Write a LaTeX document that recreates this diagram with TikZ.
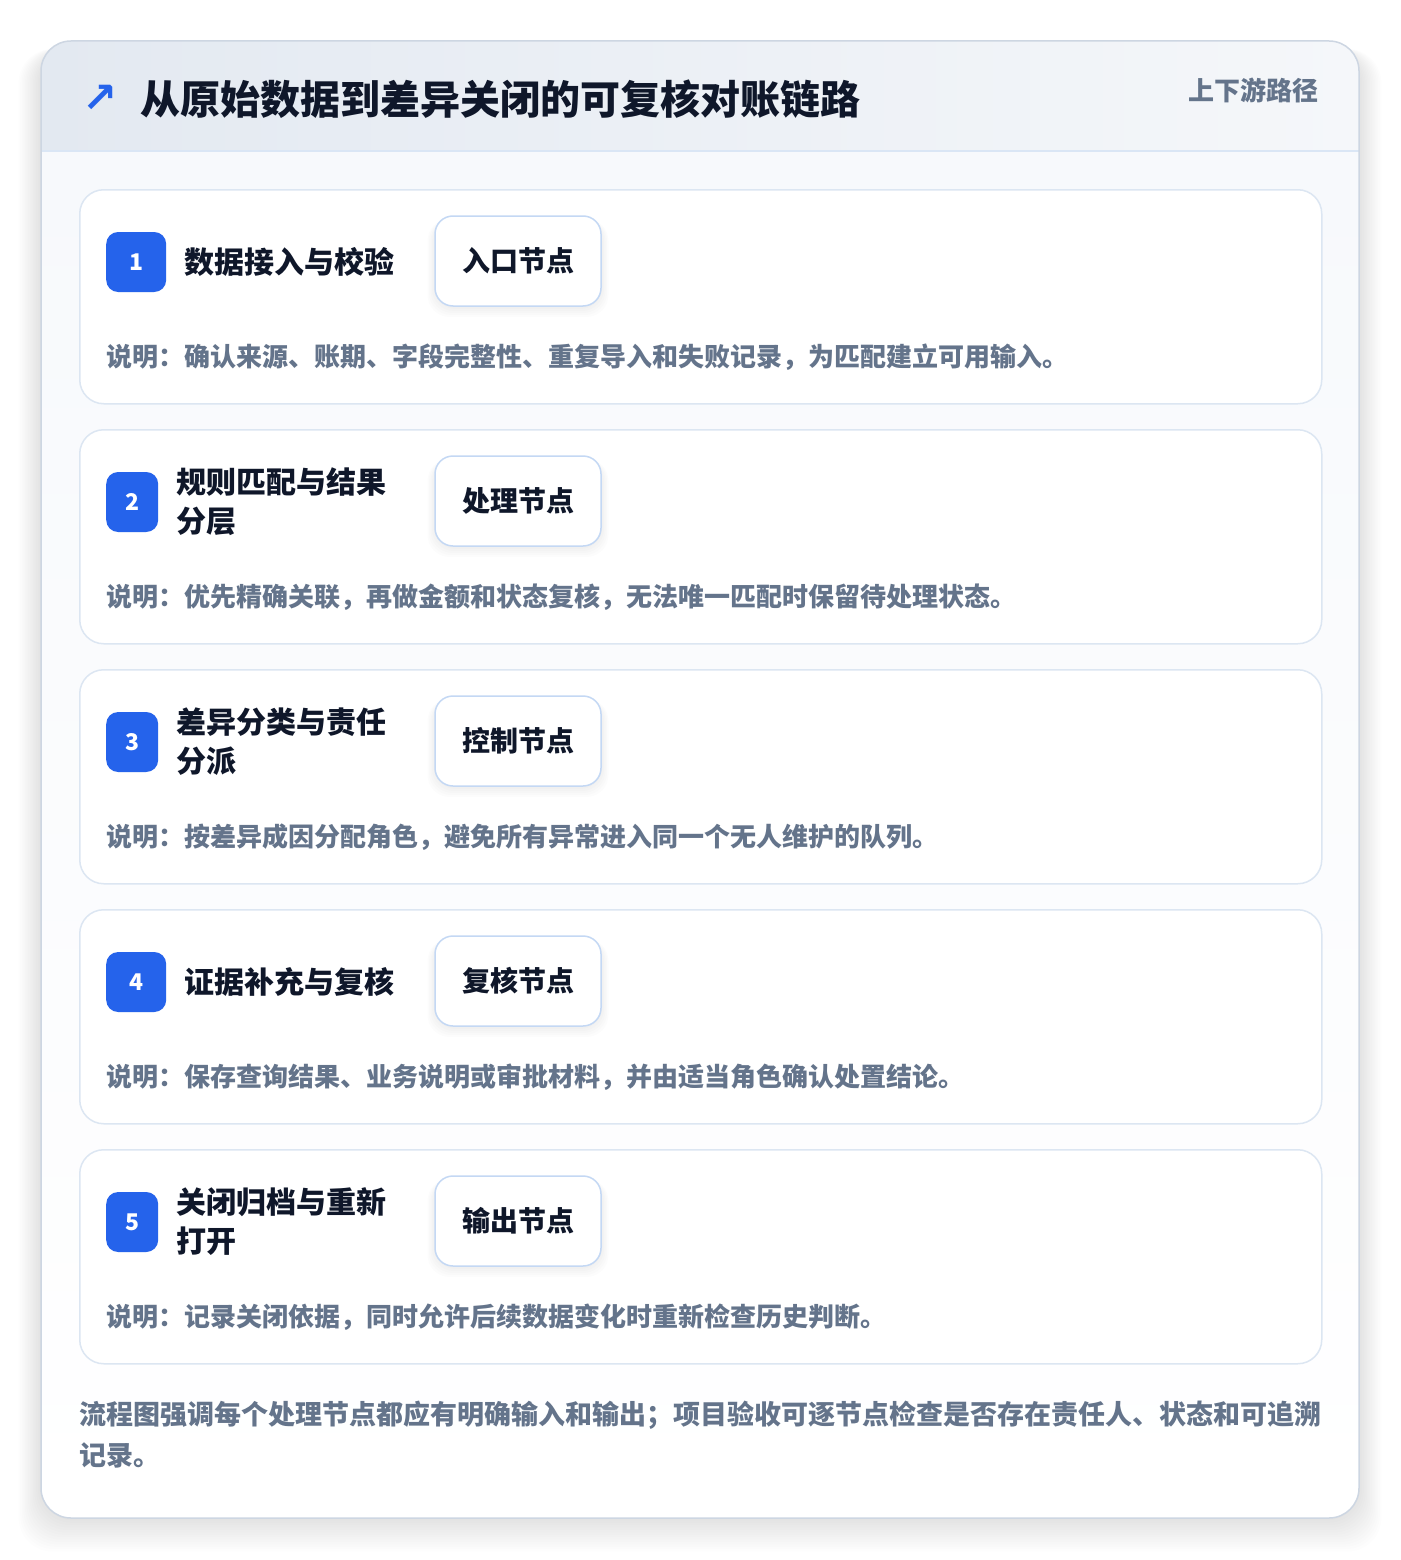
\documentclass[tikz,border=0pt]{standalone}
\usepackage{fontspec}
\setmainfont{Noto Sans CJK SC}
\newfontfamily\symfont{DejaVu Sans}
\usetikzlibrary{positioning}

\definecolor{ink}{HTML}{0F172A}
\definecolor{muted}{HTML}{64748B}
\definecolor{accent}{HTML}{2563EB}
\definecolor{cardline}{HTML}{DCE6F2}
\definecolor{tagline}{HTML}{C4D8F4}
\definecolor{frameline}{HTML}{CDD6E2}
\definecolor{headline}{HTML}{DAE6F5}
\definecolor{headL}{HTML}{E3E9F1}
\definecolor{headR}{HTML}{F5F7FA}
\definecolor{bodytop}{HTML}{F7F9FC}

\tikzset{
  stepcard/.style={draw=cardline, line width=1.5pt, fill=white, rounded corners=24pt,
    minimum width=1242pt, minimum height=214pt, anchor=north west, inner sep=0pt},
  badge/.style={fill=accent, rounded corners=12pt, minimum height=60pt, inner sep=0pt,
    text=white, font=\bfseries\fontsize{23}{23}\selectfont},
  steptitle/.style={anchor=west, align=left, inner sep=0pt, text=ink,
    font=\bfseries\fontsize{30}{39}\selectfont},
  tagbox/.style={draw=tagline, line width=1.5pt, fill=white, rounded corners=18pt,
    minimum width=166pt, minimum height=90pt, text=ink,
    font=\bfseries\fontsize{28}{28}\selectfont},
  stepnote/.style={anchor=west, inner sep=0pt, text=muted,
    font=\bfseries\fontsize{26}{26}\selectfont},
}

\begin{document}
\begin{tikzpicture}[x=1pt, y=-1pt]
  \useasboundingbox[fill=white] (0,0) rectangle (1400,1560);

  % Soft shadow of the frame
  \foreach \s in {1,...,14}
    \fill[black, opacity=0.008, rounded corners=34pt]
      (41-1.6*\s,41+8) rectangle (1359+1.6*\s,1518+2.4*\s);

  % Frame with header band
  \begin{scope}
    \clip[rounded corners=30pt] (41,41) rectangle (1359,1518);
    \shade[left color=headL, right color=headR] (41,41) rectangle (1359,151);
    \shade[top color=bodytop, bottom color=white] (41,151) rectangle (1359,1518);
  \end{scope}
  \draw[headline, line width=1.5pt] (41,151) -- (1359,151);
  \draw[frameline, line width=1.5pt, rounded corners=30pt] (41,41) rectangle (1359,1518);

  % Header texts
  \node[anchor=west, inner sep=0pt, text=ink, font=\bfseries\fontsize{40}{40}\selectfont]
    (heading) at (140,99) {从原始数据到差异关闭的可复核对账链路};
  \node[left=22pt of heading, inner sep=0pt, text=accent, font=\symfont\bfseries\fontsize{42}{42}\selectfont]
    (arrowicon) {↗};
  \node[anchor=east, inner sep=0pt, text=muted, font=\bfseries\fontsize{26}{26}\selectfont]
    (pathlabel) at (1319,90) {上下游路径};

  % Steps
  \foreach \n/\bw/\ttl/\tag/\note [count=\i from 0] in {
      1/60/{数据接入与校验}/{入口节点}/{说明：确认来源、账期、字段完整性、重复导入和失败记录，为匹配建立可用输入。},
      2/52/{规则匹配与结果\\分层}/{处理节点}/{说明：优先精确关联，再做金额和状态复核，无法唯一匹配时保留待处理状态。},
      3/52/{差异分类与责任\\分派}/{控制节点}/{说明：按差异成因分配角色，避免所有异常进入同一个无人维护的队列。},
      4/60/{证据补充与复核}/{复核节点}/{说明：保存查询结果、业务说明或审批材料，并由适当角色确认处置结论。},
      5/52/{关闭归档与重新\\打开}/{输出节点}/{说明：记录关闭依据，同时允许后续数据变化时重新检查历史判断。}} {
    \pgfmathsetmacro\top{189+240*\i}
    \node[stepcard] (card\n) at (79,\top) {};
    \node[badge, minimum width=\bw pt, anchor=west] (badge\n) at (106,\top+73) {\n};
    \node[steptitle, right=18pt of badge\n] (title\n) {\ttl};
    % tag shadow
    \foreach \s in {1,...,5}
      \fill[black, opacity=0.012, rounded corners=22pt]
        (435-1.5*\s,\top+30) rectangle (601+1.5*\s,\top+118+2*\s);
    \node[tagbox] (tag\n) at (518,\top+72) {\tag};
    \node[stepnote] (note\n) at (106,\top+168) {\note};
  }

  % Closing remark
  \node[anchor=north west, align=left, inner sep=0pt, text=muted,
    font=\bfseries\fontsize{27}{41}\selectfont] (remark) at (79,1401)
    {流程图强调每个处理节点都应有明确输入和输出；项目验收可逐节点检查是否存在责任人、状态和可追溯\\记录。};
\end{tikzpicture}
\end{document}
